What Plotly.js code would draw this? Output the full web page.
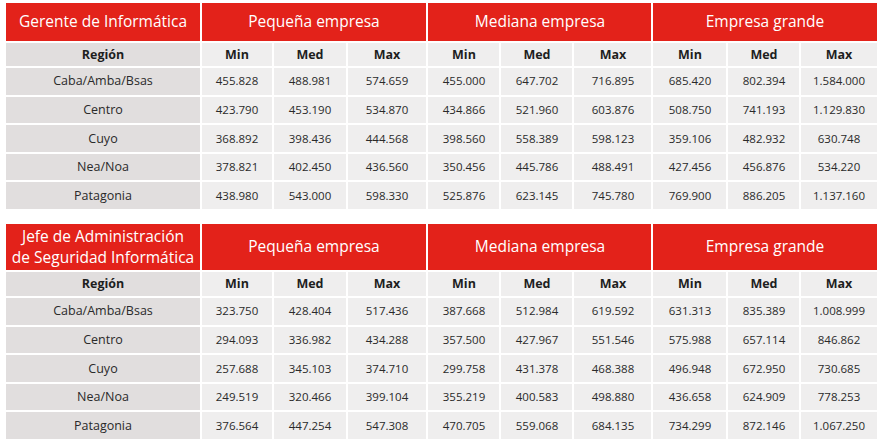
<!DOCTYPE html>
<html>
<head>
<meta charset="utf-8">
<script src="https://cdn.plot.ly/plotly-3.0.1.min.js"></script>
<style>html,body{margin:0;padding:0;background:#fff;}#chart{width:880px;height:446px;}</style>
</head>
<body>
<div id="chart"></div>
<script>
// ---------- data ----------
const regions = ["Caba/Amba/Bsas", "Centro", "Cuyo", "Nea/Noa", "Patagonia"];
const companySizes = ["Pequeña empresa", "Mediana empresa", "Empresa grande"];
const stats = ["Min", "Med", "Max"];
const regionLabel = "Región";

const title1 = "Gerente de Informática";
const title2 = "Jefe de Administración<br>de Seguridad Informática";

// Gerente de Informática: Pequeña (Min, Med, Max), Mediana (...), Grande (...)
const gerenteCaba      = [455828, 488981, 574659, 455000, 647702, 716895, 685420, 802394, 1584000];
const gerenteCentro    = [423790, 453190, 534870, 434866, 521960, 603876, 508750, 741193, 1129830];
const gerenteCuyo      = [368892, 398436, 444568, 398560, 558389, 598123, 359106, 482932, 630748];
const gerenteNeaNoa    = [378821, 402450, 436560, 350456, 445786, 488491, 427456, 456876, 534220];
const gerentePatagonia = [438980, 543000, 598330, 525876, 623145, 745780, 769900, 886205, 1137160];

// Jefe de Administración de Seguridad Informática
const jefeCaba      = [323750, 428404, 517436, 387668, 512984, 619592, 631313, 835389, 1008999];
const jefeCentro    = [294093, 336982, 434288, 357500, 427967, 551546, 575988, 657114, 846862];
const jefeCuyo      = [257688, 345103, 374710, 299758, 431378, 468388, 496948, 672950, 730685];
const jefeNeaNoa    = [249519, 320466, 399104, 355219, 400583, 498880, 436658, 624909, 778253];
const jefePatagonia = [376564, 447254, 547308, 470705, 559068, 684135, 734299, 872146, 1067250];

// ---------- layout constants (pixels) ----------
const W = 880, H = 446;
const RED = "#e3221a";
const GRAY_DARK = "#e1dede";
const GRAY_LIGHT = "#efeeee";
const FONT = "Open Sans, Lato, sans-serif";
const GAP = 2;

const colW = [196, 72, 74, 80, 73, 73, 79, 75, 73, 78];   // Región + 9 value columns
const groupSpan = [1, 3, 3, 3];                              // columns covered by each group header

// vertical structure of the two tables
const t1 = { top: 0,   group: 40, sub: 25, row: 28.6 };
const t2 = { top: 221, group: 48, sub: 26, row: 28.6 };

function cumsum(start, arr) { const out = [start]; arr.forEach(v => out.push(out[out.length - 1] + v)); return out; }
const colEdges = cumsum(0, colW);
const groupEdges = [0]; { let i = 0; groupSpan.forEach(s => { i += s; groupEdges.push(colEdges[i]); }); }

function fmt(v) { return String(v).replace(/\B(?=(\d{3})+(?!\d))/g, "."); }

function rowsEdges(t) { return cumsum(t.top + t.group + t.sub, new Array(regions.length).fill(t.row)); }

// group header rows (both tables, with a transparent spacer band)
const gY = [t1.top, t1.top + t1.group, t2.top, t2.top + t2.group];
const groupTrace = {
  type: "heatmap", x: groupEdges, y: gY,
  z: [[0, 0, 0, 0], [null, null, null, null], [0, 0, 0, 0]],
  text: [[title1].concat(companySizes), ["", "", "", ""], [title2].concat(companySizes)],
  texttemplate: "%{text}",
  textfont: { family: FONT, size: 15.5, color: "#ffffff" },
  zmin: 0, zmax: 2, colorscale: [[0, RED], [0.5, GRAY_DARK], [1, GRAY_LIGHT]],
  showscale: false, xgap: GAP, ygap: GAP, hoverinfo: "skip"
};

// sub-header rows
const subLabels = [regionLabel].concat(companySizes.flatMap(() => stats)).map(s => "<b>" + s + "</b>");
const subFill = [1].concat(new Array(9).fill(2));
const sY = [t1.top + t1.group, t1.top + t1.group + t1.sub, t2.top + t2.group, t2.top + t2.group + t2.sub];
const subTrace = {
  type: "heatmap", x: colEdges, y: sY,
  z: [subFill, new Array(10).fill(null), subFill],
  text: [subLabels, new Array(10).fill(""), subLabels],
  texttemplate: "%{text}",
  textfont: { family: FONT, size: 12.5, color: "#1e1e1e" },
  zmin: 0, zmax: 2, colorscale: [[0, RED], [0.5, GRAY_DARK], [1, GRAY_LIGHT]],
  showscale: false, xgap: GAP, ygap: GAP, hoverinfo: "skip"
};

// body rows
const table1Rows = [gerenteCaba, gerenteCentro, gerenteCuyo, gerenteNeaNoa, gerentePatagonia];
const table2Rows = [jefeCaba, jefeCentro, jefeCuyo, jefeNeaNoa, jefePatagonia];
const bodyY = rowsEdges(t1).concat(rowsEdges(t2));
function bodyZ(fill, n) {
  const z = [];
  for (let i = 0; i < 5; i++) z.push(new Array(n).fill(fill));
  z.push(new Array(n).fill(null));
  for (let i = 0; i < 5; i++) z.push(new Array(n).fill(fill));
  return z;
}
const regionText = regions.map(r => [r]).concat([[""]]).concat(regions.map(r => [r]));
const regionTrace = {
  type: "heatmap", x: colEdges.slice(0, 2), y: bodyY,
  z: bodyZ(1, 1), text: regionText, texttemplate: "%{text}",
  textfont: { family: FONT, size: 12.5, color: "#2a2a2a" },
  zmin: 0, zmax: 2, colorscale: [[0, RED], [0.5, GRAY_DARK], [1, GRAY_LIGHT]],
  showscale: false, xgap: GAP, ygap: GAP, hoverinfo: "skip"
};
const valueText = table1Rows.map(r => r.map(fmt)).concat([new Array(9).fill("")]).concat(table2Rows.map(r => r.map(fmt)));
const valueTrace = {
  type: "heatmap", x: colEdges.slice(1), y: bodyY,
  z: bodyZ(2, 9), text: valueText, texttemplate: "%{text}",
  textfont: { family: FONT, size: 11.5, color: "#2a2a2a" },
  zmin: 0, zmax: 2, colorscale: [[0, RED], [0.5, GRAY_DARK], [1, GRAY_LIGHT]],
  showscale: false, xgap: GAP, ygap: GAP, hoverinfo: "skip"
};

const totalW = colEdges[colEdges.length - 1];
const bottom = bodyY[bodyY.length - 1];
const layout = {
  width: W, height: H,
  margin: { l: 5, r: W - 5 - totalW, t: 2, b: H - 2 - bottom, pad: 0 },
  paper_bgcolor: "#ffffff", plot_bgcolor: "#ffffff",
  showlegend: false,
  xaxis: { range: [0, totalW], visible: false, fixedrange: true },
  yaxis: { range: [bottom, 0], visible: false, fixedrange: true }
};
Plotly.newPlot("chart", [groupTrace, subTrace, regionTrace, valueTrace], layout, { displayModeBar: false, staticPlot: true });
</script>
</body>
</html>
